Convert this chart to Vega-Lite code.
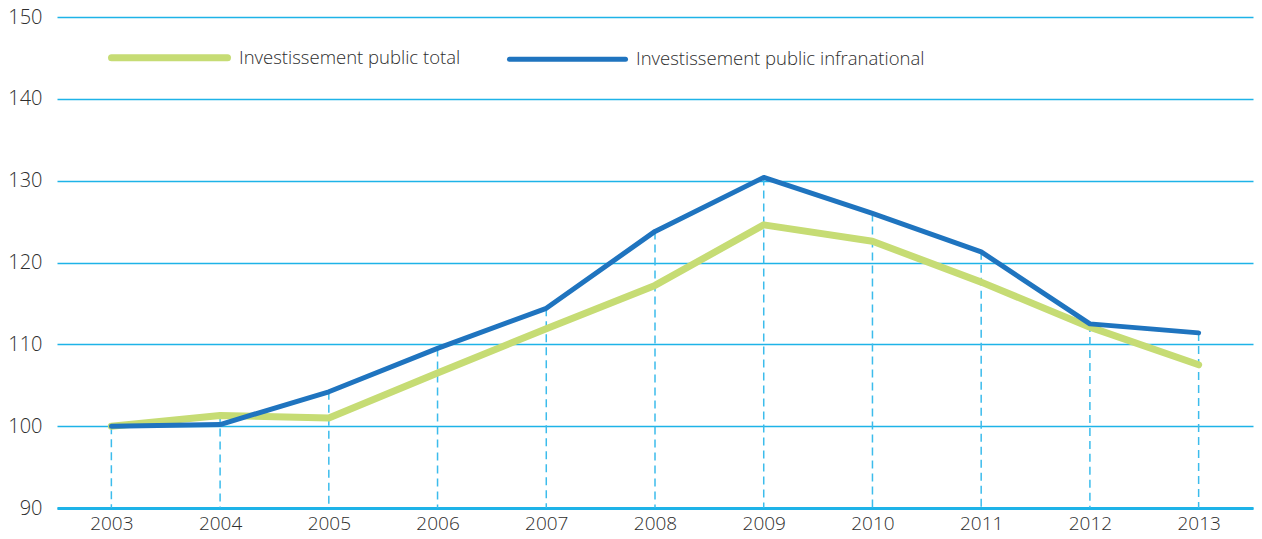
{
  "$schema": "https://vega.github.io/schema/vega-lite/v6.json",
  "autosize": {"type": "none"},
  "padding": {"left": 57, "top": 17, "right": 9, "bottom": 31},
  "width": 1196,
  "height": 491,
  "background": "white",
  "config": {
    "view": {"stroke": null},
    "font": "Open Sans"
  },
  "data": {
    "values": [
      {"year": "2003", "series": "Investissement public total", "value": 100},
      {"year": "2004", "series": "Investissement public total", "value": 101.3},
      {"year": "2005", "series": "Investissement public total", "value": 101.0},
      {"year": "2006", "series": "Investissement public total", "value": 106.5},
      {"year": "2007", "series": "Investissement public total", "value": 111.9},
      {"year": "2008", "series": "Investissement public total", "value": 117.2},
      {"year": "2009", "series": "Investissement public total", "value": 124.6},
      {"year": "2010", "series": "Investissement public total", "value": 122.6},
      {"year": "2011", "series": "Investissement public total", "value": 117.6},
      {"year": "2012", "series": "Investissement public total", "value": 112.1},
      {"year": "2013", "series": "Investissement public total", "value": 107.5},
      {"year": "2003", "series": "Investissement public infranational", "value": 100},
      {"year": "2004", "series": "Investissement public infranational", "value": 100.2},
      {"year": "2005", "series": "Investissement public infranational", "value": 104.2},
      {"year": "2006", "series": "Investissement public infranational", "value": 109.5},
      {"year": "2007", "series": "Investissement public infranational", "value": 114.4},
      {"year": "2008", "series": "Investissement public infranational", "value": 123.8},
      {"year": "2009", "series": "Investissement public infranational", "value": 130.4},
      {"year": "2010", "series": "Investissement public infranational", "value": 126.0},
      {"year": "2011", "series": "Investissement public infranational", "value": 121.3},
      {"year": "2012", "series": "Investissement public infranational", "value": 112.5},
      {"year": "2013", "series": "Investissement public infranational", "value": 111.4}
    ]
  },
  "encoding": {
    "x": {
      "field": "year",
      "type": "ordinal",
      "scale": {"type": "point", "padding": 0.5},
      "axis": {
        "title": null,
        "labelAngle": 0,
        "ticks": false,
        "domain": true,
        "domainColor": "#1eb3e8",
        "domainWidth": 3,
        "labelFontSize": 19,
        "labelFontWeight": 300,
        "labelColor": "#2e2e2e",
        "labelPadding": 6,
        "grid": false
      }
    }
  },
  "layer": [
    {
      "mark": {"type": "rule", "color": "#3cbcec", "strokeWidth": 1.5, "strokeDash": [8, 5]},
      "encoding": {
        "y": {
          "aggregate": "max",
          "field": "value",
          "type": "quantitative",
          "scale": {"domain": [90, 150], "nice": false, "zero": false},
          "axis": {
            "title": null,
            "values": [90, 100, 110, 120, 130, 140, 150],
            "domain": false,
            "ticks": false,
            "grid": true,
            "gridColor": "#1eb3e8",
            "gridWidth": 1.5,
            "labelFontSize": 20,
            "labelFontWeight": 300,
            "labelColor": "#2e2e2e",
            "labelPadding": 15,
            "labelBaseline": "middle"
          }
        },
        "y2": {"datum": 90}
      }
    },
    {
      "mark": {"type": "line", "strokeCap": "round", "strokeJoin": "round"},
      "encoding": {
        "y": {"field": "value", "type": "quantitative"},
        "color": {
          "field": "series",
          "type": "nominal",
          "scale": {
            "domain": ["Investissement public total", "Investissement public infranational"],
            "range": ["#c6dc74", "#1f74bf"]
          },
          "legend": {
            "title": null,
            "orient": "none",
            "direction": "horizontal",
            "legendX": 51,
            "legendY": -21,
            "symbolType": "stroke",
            "symbolSize": 13456,
            "symbolStrokeWidth": 6,
            "labelFontSize": 18.5,
            "labelFontWeight": 300,
            "labelColor": "#2e2e2e",
            "labelOffset": 8,
            "columnPadding": 38,
            "labelLimit": 500,
            "encode": {"symbols": {"update": {"strokeCap": {"value": "round"}}}}
          }
        },
        "strokeWidth": {
          "field": "series",
          "type": "nominal",
          "scale": {
            "domain": ["Investissement public total", "Investissement public infranational"],
            "range": [7, 5]
          },
          "legend": null
        },
        "order": {"field": "series", "sort": "ascending"}
      }
    }
  ]
}
